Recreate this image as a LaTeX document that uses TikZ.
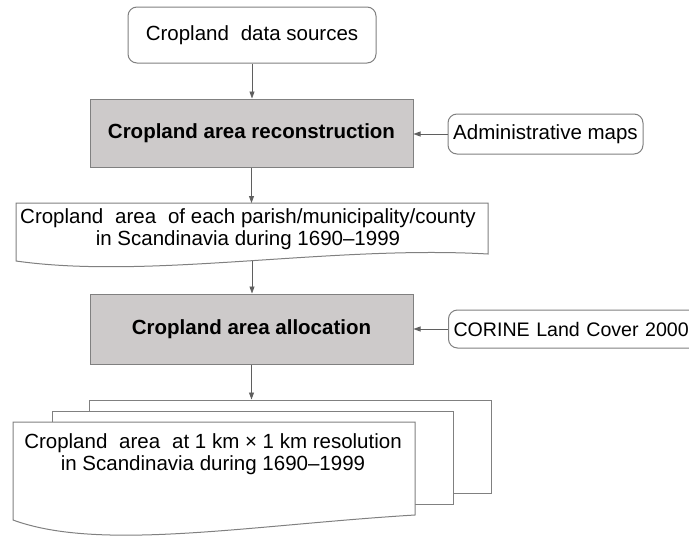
\documentclass[tikz,border=0pt]{standalone}
\usepackage{fontspec}
\setmainfont{Liberation Sans}
\usetikzlibrary{arrows.meta}
\definecolor{boxgray}{RGB}{205,202,202}
\definecolor{edgegray}{RGB}{128,128,128}
\definecolor{linegray}{RGB}{95,95,95}
\begin{document}
\begin{tikzpicture}[x=1pt,y=-1pt,
  font=\fontsize{20.5}{22.5}\selectfont,
  rbox/.style={draw=edgegray,line width=1pt,rounded corners=9pt,fill=white,inner sep=0pt},
  gbox/.style={draw=edgegray,line width=1pt,fill=boxgray,inner sep=0pt,font=\fontsize{20.5}{22.5}\selectfont\bfseries},
  txt/.style={inner sep=0pt,align=center},
  docline/.style={draw=edgegray,line width=1pt,fill=white},
  arr/.style={draw=linegray,line width=0.8pt,-{Triangle[length=7pt,width=5pt]},shorten >=0pt}]
\useasboundingbox (0,0) rectangle (689,536);
% top source box
\node[rbox,minimum width=248,minimum height=56] (src) at (252,35) {Cropland\hspace{0.3em} data sources};
% reconstruction
\node[gbox,minimum width=323,minimum height=68] (g1) at (251.5,133) {Cropland area reconstruction};
\node[rbox,minimum width=195,minimum height=40] (adm) at (545.5,134) {Administrative maps};
% document 1
\path[docline] (16,261) -- (16,203) -- (488,203) -- (488,254)
   .. controls (330,245) and (150,280) .. (16,261) -- cycle;
\node[txt] (d1) at (248,229) {Cropland\hspace{0.3em} area\hspace{0.3em} of each parish/municipality/county\\in Scandinavia during 1690--1999};
\coordinate (d1b) at (252,261);
% allocation
\node[gbox,minimum width=323,minimum height=70] (g2) at (251.5,329) {Cropland area allocation};
\begin{scope}
\clip (0,0) rectangle (689,536);
\node[rbox,minimum width=262,minimum height=38,anchor=west,text width=252,align=left,inner xsep=5pt,font=\fontsize{19.6}{22}\selectfont] (cor) at (448,329) {CORINE Land Cover 2000};
\end{scope}
% multi document
\node[draw=edgegray,line width=1pt,fill=white,minimum width=402,minimum height=93,inner sep=0pt] (m1) at (290,446.5) {};
\node[draw=edgegray,line width=1pt,fill=white,minimum width=401,minimum height=93,inner sep=0pt] (m2) at (252.5,457.5) {};
\path[docline] (13,520) -- (13,422) -- (415,422) -- (415,515)
   .. controls (250,525) and (100,552) .. (13,520) -- cycle;
\node[txt] (m3) at (213,454) {Cropland\hspace{0.3em} area\hspace{0.3em} at 1 km × 1 km resolution\\in Scandinavia during 1690--1999};
% connectors
\draw[arr] (src.south) -- (src.south |- g1.north);
\draw[arr] (g1.south) -- (g1.south |- 0,203);
\draw[arr] (adm.west) -- (adm.west -| g1.east);
\draw[arr] (d1b) -- (d1b |- g2.north);
\draw[arr] (cor.west) -- (cor.west -| g2.east);
\draw[arr] (g2.south) -- (g2.south |- m1.north);
\end{tikzpicture}
\end{document}
